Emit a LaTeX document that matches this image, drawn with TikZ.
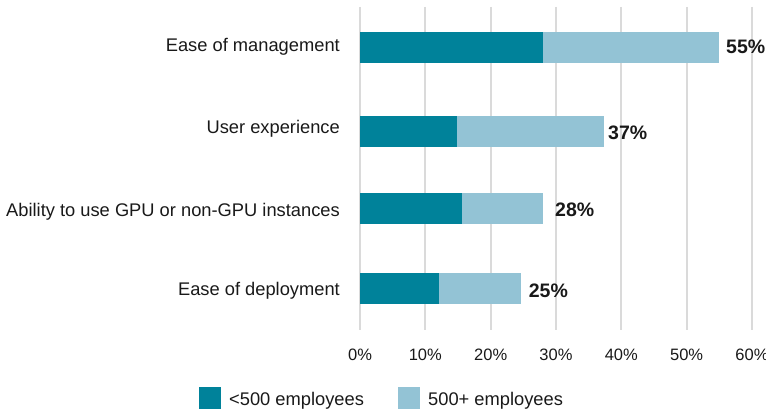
\documentclass[tikz,border=0pt]{standalone}
\usepackage{fontspec}
\setmainfont{Liberation Sans}
\definecolor{small}{HTML}{00829A}
\definecolor{large}{HTML}{93C3D5}
\definecolor{gridgray}{HTML}{DADADA}

\begin{document}
\begin{tikzpicture}[x=1pt, y=-1pt,
	every node/.style = {inner sep=0pt, text=black!90, font=\fontsize{18.3}{22}\selectfont},
	gridline/.style = {draw=gridgray, line width=2pt},
	tick/.style = {anchor=base, font=\fontsize{16.5}{20}\selectfont},
	category/.style = {anchor=base east},
	total/.style = {anchor=base west, font=\fontsize{19.5}{23}\selectfont\bfseries},
	key/.style = {minimum width=21.7pt, minimum height=22.3pt, anchor=north west}]
	\useasboundingbox (0,0) rectangle (766,412);
	% grid and axis labels
	\foreach \k/\t in {0/0,1/10,2/20,3/30,4/40,5/50,6/60} {
		\draw[gridline] ({360+65.33*\k},7) -- ({360+65.33*\k},330);
		\node[tick] (tick\k) at ({360+65.33*\k},360.7) {\t\%};
	}
	% bars: centre / end of small / end of total / label base / value x / value base
	\foreach \n/\c/\s/\e/\lb/\vx/\vb/\txt/\val in {
		1/47.3/543/719/51.7/726/54/Ease of management/55,
		2/131.3/457/604/133.3/608/139.3/User experience/37,
		3/208.3/461.7/543/216/555/216/Ability to use GPU or non-GPU instances/28,
		4/288.3/439/521/295.7/528.7/297.7/Ease of deployment/25} {
		\fill[small] (360,\c-15.35) rectangle (\s,\c+15.35);
		\fill[large] (\s,\c-15.35) rectangle (\e,\c+15.35);
		\node[category] (cat\n) at (340,\lb) {\txt};
		\node[total] (val\n) at (\vx,\vb) {\val\%};
	}
	% legend
	\node[key, fill=small] (keysmall) at (199,386.7) {};
	\node[anchor=base west] (txtsmall) at (229,405.3) {<500 employees};
	\node[key, fill=large] (keylarge) at (398,386.7) {};
	\node[anchor=base west] (txtlarge) at (428,405.3) {500+ employees};
\end{tikzpicture}
\end{document}
